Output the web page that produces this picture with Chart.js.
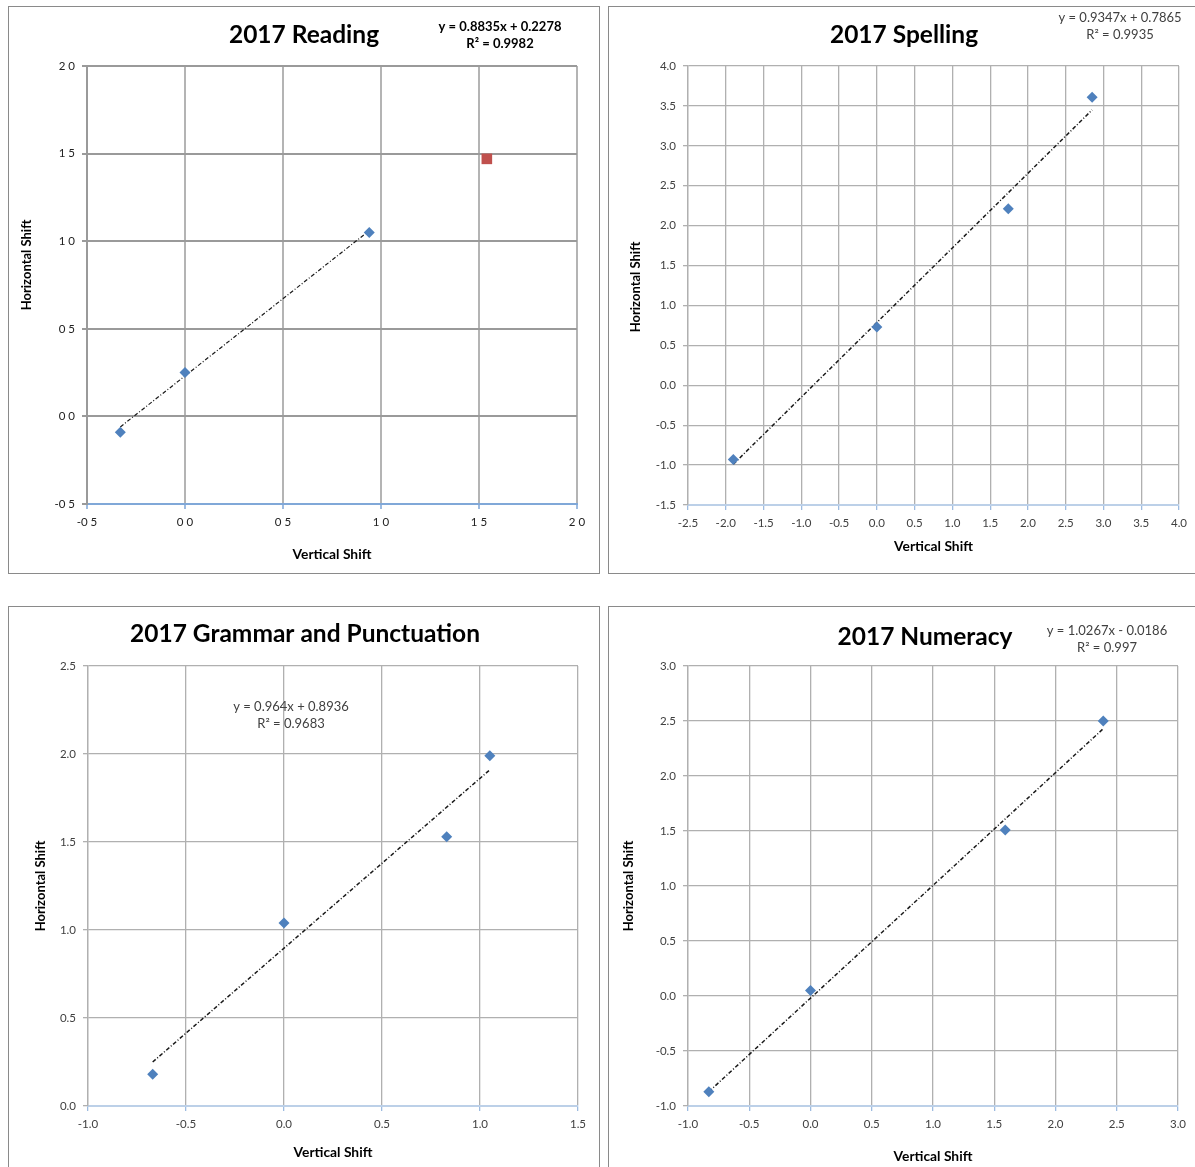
<!DOCTYPE html>
<html><head><meta charset="utf-8">
<script src="https://cdn.jsdelivr.net/npm/chart.js@4.4.1/dist/chart.umd.min.js"></script>
<style>
body{margin:0;background:#fff;width:1195px;height:1167px;overflow:hidden;position:relative}
.frame{position:absolute;border:1px solid #8a8a8a;box-sizing:border-box}
canvas{position:absolute}
</style></head><body>
<div class="frame" style="left:8px;top:6px;width:592px;height:568px"></div>
<div class="frame" style="left:608px;top:6px;width:600px;height:568px"></div>
<div class="frame" style="left:8px;top:606px;width:592px;height:600px"></div>
<div class="frame" style="left:608px;top:606px;width:600px;height:600px"></div>
<canvas id="c1" width="591" height="567" style="left:8px;top:6px"></canvas>
<canvas id="c2" width="587" height="567" style="left:608px;top:6px"></canvas>
<canvas id="c3" width="591" height="561" style="left:8px;top:606px"></canvas>
<canvas id="c4" width="587" height="561" style="left:608px;top:606px"></canvas>
<script>
// ---------- DATA ----------
const readingX = [-0.33, 0.0, 0.94];
const readingY = [-0.09, 0.25, 1.05];
const readingOutlierX = [1.54];
const readingOutlierY = [1.47];
const readingTrendX = [-0.33, 0.94];
const readingTrendY = [-0.06, 1.06];
const readingXTicks = ["-0 5", "0 0", "0 5", "1 0", "1 5", "2 0"];
const readingYTicks = ["-0 5", "0 0", "0 5", "1 0", "1 5", "2 0"];

const spellingX = [-1.9, 0.0, 1.74, 2.85];
const spellingY = [-0.93, 0.73, 2.21, 3.61];
const spellingTrendX = [-1.9, 2.85];
const spellingTrendY = [-0.99, 3.45];
const spellingXTicks = ["-2.5","-2.0","-1.5","-1.0","-0.5","0.0","0.5","1.0","1.5","2.0","2.5","3.0","3.5","4.0"];
const spellingYTicks = ["-1.5","-1.0","-0.5","0.0","0.5","1.0","1.5","2.0","2.5","3.0","3.5","4.0"];

const grammarX = [-0.67, 0.0, 0.83, 1.05];
const grammarY = [0.18, 1.04, 1.53, 1.99];
const grammarTrendX = [-0.67, 1.05];
const grammarTrendY = [0.25, 1.91];
const grammarXTicks = ["-1.0","-0.5","0.0","0.5","1.0","1.5"];
const grammarYTicks = ["0.0","0.5","1.0","1.5","2.0","2.5"];

const numeracyX = [-0.83, 0.0, 1.59, 2.39];
const numeracyY = [-0.87, 0.05, 1.51, 2.50];
const numeracyTrendX = [-0.83, 2.39];
const numeracyTrendY = [-0.87, 2.43];
const numeracyXTicks = ["-1.0","-0.5","0.0","0.5","1.0","1.5","2.0","2.5","3.0"];
const numeracyYTicks = ["-1.0","-0.5","0.0","0.5","1.0","1.5","2.0","2.5","3.0"];

const titles = ["2017 Reading", "2017 Spelling", "2017 Grammar and Punctuation", "2017 Numeracy"];
const equations = [
  ["y = 0.8835x + 0.2278", "R² = 0.9982"],
  ["y = 0.9347x + 0.7865", "R² = 0.9935"],
  ["y = 0.964x + 0.8936", "R² = 0.9683"],
  ["y = 1.0267x - 0.0186", "R² = 0.997"]
];
const xAxisTitle = "Vertical Shift";
const yAxisTitle = "Horizontal Shift";

// ---------- HELPERS ----------
const zip = (xs, ys) => xs.map((x, i) => ({x, y: ys[i]}));
const FONT = "Lato, 'Open Sans', sans-serif";
const BLUE = '#4f81bd';

const textPlugin = {
  id: 'panelText',
  afterDraw(chart, args, opts) {
    const ctx = chart.ctx;
    ctx.save();
    ctx.textAlign = 'center';
    ctx.textBaseline = 'middle';
    ctx.fillStyle = '#000';
    ctx.font = 'bold ' + opts.titleSize + 'px ' + FONT;
    ctx.fillText(opts.title, opts.titlePos[0], opts.titlePos[1]);
    ctx.fillStyle = opts.eqColor;
    ctx.font = (opts.eqBold ? 'bold ' : '') + '13px ' + FONT;
    ctx.fillText(opts.eq[0], opts.eqPos[0], opts.eqPos[1]);
    ctx.fillText(opts.eq[1], opts.eqPos[0], opts.eqPos[1] + 17);
    // y-axis title (rotated)
    ctx.fillStyle = '#000';
    ctx.font = 'bold 13px ' + FONT;
    ctx.translate(opts.yTitlePos[0], opts.yTitlePos[1]);
    ctx.rotate(-Math.PI / 2);
    ctx.fillText(opts.yTitle, 0, 0);
    ctx.restore();
  }
};

function makeChart(id, c) {
  const canvas = document.getElementById(id);
  const W = canvas.width, H = canvas.height;
  const datasets = [
    {
      data: zip(c.trendX, c.trendY), showLine: true, borderColor: '#1a1a1a',
      borderWidth: c.trendW, borderDash: [4, 2, 1, 2], pointRadius: 0, fill: false, order: 2
    },
    {
      data: zip(c.xs, c.ys), pointStyle: 'rectRot', pointRadius: 5.5,
      backgroundColor: BLUE, borderColor: BLUE, borderWidth: 0, order: 1
    }
  ];
  if (c.outX) datasets.push({
    data: zip(c.outX, c.outY), pointStyle: 'rect', pointRadius: 7.5,
    backgroundColor: '#c0504d', borderColor: '#c0504d', borderWidth: 0, order: 0
  });
  new Chart(canvas, {
    type: 'scatter',
    data: { datasets },
    options: {
      responsive: false, animation: false, devicePixelRatio: 1,
      layout: { padding: { left: 0, top: c.plot.t, right: W - c.plot.r, bottom: 0 } },
      plugins: {
        legend: { display: false }, tooltip: { enabled: false },
        panelText: {
          title: c.title, titlePos: c.titlePos, titleSize: c.titleSize,
          eq: c.eq, eqPos: c.eqPos, eqBold: c.eqBold, eqColor: c.eqBold ? '#000' : '#404040',
          yTitle: yAxisTitle, yTitlePos: c.yTitlePos
        }
      },
      scales: {
        x: {
          type: 'linear', min: c.xMin, max: c.xMax,
          ticks: { stepSize: 0.5, autoSkip: false, maxRotation: 0, padding: 6,
            color: c.tickColor, font: { family: FONT, size: 11.5 },
            callback: (v, i) => c.xTicks[i] },
          grid: { color: c.gridV, lineWidth: c.gridW, tickLength: 5, tickColor: '#9dbbe0' },
          border: { color: c.axisBlue, width: 2 },
          title: { display: true, text: xAxisTitle, color: '#000',
            font: { family: FONT, size: 13.8, weight: 'bold' }, padding: { top: 0, bottom: c.xTitlePad } },
          afterFit: s => { s.height = H - c.plot.b; }
        },
        y: {
          type: 'linear', min: c.yMin, max: c.yMax,
          ticks: { stepSize: 0.5, autoSkip: false, padding: 7,
            color: c.tickColor, font: { family: FONT, size: 11.5 },
            callback: (v, i) => c.yTicks[i] },
          grid: { color: c.gridH, lineWidth: c.gridW, tickLength: 5 },
          border: { color: c.gridH, width: c.gridW },
          title: { display: false },
          afterFit: s => { s.width = c.plot.l; }
        }
      }
    },
    plugins: [textPlugin]
  });
}

makeChart('c1', {
  xs: readingX, ys: readingY, outX: readingOutlierX, outY: readingOutlierY,
  trendX: readingTrendX, trendY: readingTrendY, xTicks: readingXTicks, yTicks: readingYTicks,
  xMin: -0.5, xMax: 2.0, yMin: -0.5, yMax: 2.0,
  plot: { l: 79, r: 569, t: 60, b: 498 },
  title: titles[0], titlePos: [296, 29], titleSize: 24.5, eq: equations[0], eqPos: [492, 21], eqBold: true,
  tickColor: '#222', gridV: '#b4b4b4', gridH: '#9a9a9a', gridW: 2, axisBlue: '#80a8d8',
  xTitlePad: 10, yTitlePos: [19, 259], trendW: 1.2
});
makeChart('c2', {
  xs: spellingX, ys: spellingY, trendX: spellingTrendX, trendY: spellingTrendY,
  xTicks: spellingXTicks, yTicks: spellingYTicks,
  xMin: -2.5, xMax: 4.0, yMin: -1.5, yMax: 4.0,
  plot: { l: 80, r: 571, t: 60, b: 499 },
  title: titles[1], titlePos: [296, 29], titleSize: 24.5, eq: equations[1], eqPos: [512, 12], eqBold: false,
  tickColor: '#404040', gridV: '#b0b0b0', gridH: '#b0b0b0', gridW: 1.3, axisBlue: '#bcd0e8',
  xTitlePad: 18, yTitlePos: [28, 281], trendW: 1.5
});
makeChart('c3', {
  xs: grammarX, ys: grammarY, trendX: grammarTrendX, trendY: grammarTrendY,
  xTicks: grammarXTicks, yTicks: grammarYTicks,
  xMin: -1.0, xMax: 1.5, yMin: 0.0, yMax: 2.5,
  plot: { l: 80, r: 570, t: 60, b: 500 },
  title: titles[2], titlePos: [297, 28], titleSize: 24.5, eq: equations[2], eqPos: [283, 101], eqBold: false,
  tickColor: '#404040', gridV: '#b0b0b0', gridH: '#b0b0b0', gridW: 1.3, axisBlue: '#bcd0e8',
  xTitlePad: 6, yTitlePos: [33, 280], trendW: 1.5
});
makeChart('c4', {
  xs: numeracyX, ys: numeracyY, trendX: numeracyTrendX, trendY: numeracyTrendY,
  xTicks: numeracyXTicks, yTicks: numeracyYTicks,
  xMin: -1.0, xMax: 3.0, yMin: -1.0, yMax: 3.0,
  plot: { l: 80, r: 570, t: 60, b: 500 },
  title: titles[3], titlePos: [317, 31], titleSize: 24.5, eq: equations[3], eqPos: [499, 25], eqBold: false,
  tickColor: '#404040', gridV: '#b0b0b0', gridH: '#b0b0b0', gridW: 1.3, axisBlue: '#bcd0e8',
  xTitlePad: 2, yTitlePos: [21, 280], trendW: 1.5
});
</script>
</body></html>
